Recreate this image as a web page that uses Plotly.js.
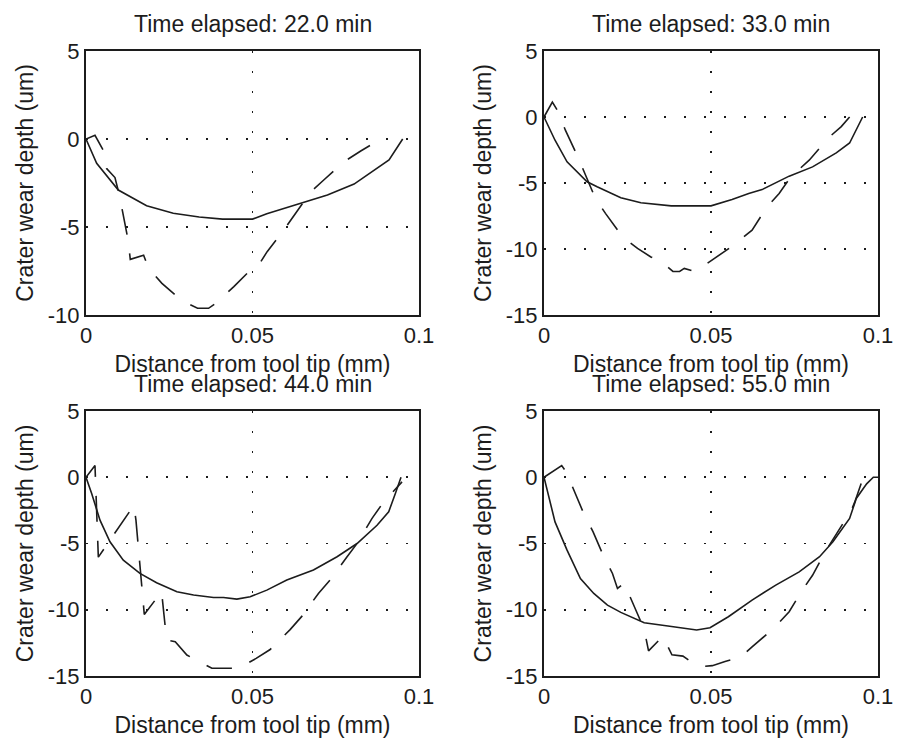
<!DOCTYPE html>
<html>
<head>
<meta charset="utf-8">
<script src="https://cdn.plot.ly/plotly-3.0.1.min.js"></script>
<style>
  html, body { margin: 0; padding: 0; background: #fff; }
  #chart { width: 907px; height: 740px; }
</style>
</head>
<body>
<div id="chart"></div>
<script>
// ---- Data (x: distance from tool tip in mm, y: crater wear depth in um) ----
const panelTitles = ['Time elapsed: 22.0 min', 'Time elapsed: 33.0 min', 'Time elapsed: 44.0 min', 'Time elapsed: 55.0 min'];

const xTickVals = [0, 0.05, 0.1];
const xTickText = ['0', '0.05', '0.1'];
const yTickValsTop = [-10, -5, 0, 5];
const yTickTextTop = ['-10', '-5', '0', '5'];
const yTickValsAll = [-15, -10, -5, 0, 5];
const yTickTextAll = ['-15', '-10', '-5', '0', '5'];

// 22.0 min
const x22Solid = [0, 0.0032, 0.0097, 0.0182, 0.0262, 0.034, 0.041, 0.05, 0.0543, 0.0614, 0.0725, 0.0805, 0.084, 0.091, 0.0951];
const y22Solid = [0, -1.38, -2.9, -3.79, -4.22, -4.43, -4.55, -4.55, -4.25, -3.85, -3.18, -2.56, -2.1, -1.19, 0];
const x22Dash = [0, 0.0027, 0.0052, 0.0062, 0.0087, 0.0099, 0.011, 0.0126, 0.0133, 0.0173, 0.0188, 0.0228, 0.0288, 0.0335, 0.0368, 0.0389, 0.0444, 0.0484, 0.0514, 0.0544, 0.0594, 0.0627, 0.0675, 0.0714, 0.0775, 0.0825, 0.0886];
const y22Dash = [0, 0.21, -0.64, -1.68, -2.19, -3.1, -4.14, -5.7, -6.84, -6.6, -7.35, -8.2, -9.19, -9.62, -9.62, -9.34, -8.39, -7.63, -7.3, -6.4, -5.17, -4.3, -3.0, -2.33, -1.29, -0.68, 0];

// 33.0 min
const x33Solid = [0, 0.0033, 0.0069, 0.0129, 0.0159, 0.023, 0.029, 0.0381, 0.05, 0.0563, 0.0613, 0.0653, 0.0734, 0.0804, 0.0875, 0.0915, 0.0954];
const y33Solid = [0, -1.76, -3.4, -4.91, -5.29, -6.12, -6.5, -6.73, -6.73, -6.25, -5.8, -5.5, -4.48, -3.78, -2.72, -1.97, 0];
const x33Dash = [0, 0.0025, 0.0043, 0.0064, 0.0099, 0.0121, 0.0154, 0.0184, 0.0235, 0.028, 0.032, 0.0349, 0.0386, 0.0406, 0.042, 0.0452, 0.0462, 0.0507, 0.0563, 0.0623, 0.0668, 0.0704, 0.0739, 0.0794, 0.0855, 0.089, 0.0915];
const y33Dash = [0, 1.13, 0.38, -1.0, -2.89, -4.15, -6.17, -7.3, -9.07, -9.96, -10.6, -10.9, -11.7, -11.7, -11.47, -11.72, -11.55, -10.8, -9.8, -8.57, -6.8, -5.8, -4.53, -3.27, -1.5, -0.73, 0];

// 44.0 min
const x44Solid = [0, 0.0017, 0.0042, 0.0072, 0.0112, 0.0162, 0.0212, 0.0273, 0.0323, 0.0383, 0.0413, 0.0453, 0.0493, 0.0543, 0.0603, 0.0683, 0.0754, 0.0814, 0.0874, 0.0909, 0.0929, 0.0946];
const y44Solid = [0, -1.23, -3.24, -4.87, -6.26, -7.26, -7.96, -8.64, -8.89, -9.07, -9.07, -9.2, -9.02, -8.52, -7.76, -7.0, -6.0, -5.0, -3.62, -2.61, -1.23, 0];
const x44Dash = [0, 0.0027, 0.0037, 0.0144, 0.015, 0.017, 0.0175, 0.0227, 0.0237, 0.0242, 0.0268, 0.0303, 0.0378, 0.0428, 0.0458, 0.0511, 0.0553, 0.0613, 0.0648, 0.0698, 0.0733, 0.0784, 0.0814, 0.0859, 0.0894, 0.0949];
const y44Dash = [0, 0.88, -6.03, -2.11, -3.24, -8.9, -10.35, -8.64, -11.28, -12.29, -12.41, -13.42, -14.42, -14.42, -14.42, -13.67, -13.0, -11.5, -10.5, -8.77, -7.76, -6.0, -5.0, -3.1, -1.86, -0.35];

// 55.0 min
const x55Solid = [0, 0.0033, 0.0069, 0.0109, 0.0149, 0.019, 0.023, 0.03, 0.0371, 0.0457, 0.0497, 0.0552, 0.0623, 0.0694, 0.0764, 0.0825, 0.0865, 0.0915, 0.0935, 0.0966, 0.0986, 0.1];
const y55Solid = [0, -3.37, -5.5, -7.64, -8.77, -9.65, -10.2, -10.98, -11.23, -11.53, -11.36, -10.53, -9.27, -8.14, -7.14, -6.0, -4.87, -3.11, -1.6, -0.5, 0, 0];
const x55Dash = [0, 0.0053, 0.0067, 0.0087, 0.0121, 0.0147, 0.0179, 0.0205, 0.022, 0.024, 0.0265, 0.03, 0.0313, 0.0356, 0.0383, 0.0416, 0.0462, 0.0504, 0.0542, 0.0588, 0.0623, 0.0688, 0.0734, 0.0774, 0.0804, 0.0845, 0.087, 0.092, 0.093, 0.0956];
const y55Dash = [0, 0.88, 0.38, -0.85, -2.86, -4.12, -6.0, -7.26, -8.39, -7.99, -9.47, -11.48, -13.1, -12.0, -13.4, -13.5, -14.3, -14.22, -13.9, -13.6, -12.8, -11.4, -10.15, -8.5, -7.4, -5.5, -4.5, -2.5, -1.9, 0];

// ---- Build ----
const W = 907, H = 740;
const ink = '#1c1c1c';
const FONT = 'Liberation Sans, Arial, Helvetica, sans-serif';
const FS = 23;   // titles
const TS = 22;   // tick labels

const series = [
  [x22Solid, y22Solid, x22Dash, y22Dash],
  [x33Solid, y33Solid, x33Dash, y33Dash],
  [x44Solid, y44Solid, x44Dash, y44Dash],
  [x55Solid, y55Solid, x55Dash, y55Dash]
];

// pixel boxes of each plot area [left, right, top, bottom]
const boxes = [
  [86, 419, 51, 315],
  [544, 878, 51, 315],
  [86, 419, 411, 676],
  [544, 878, 411, 676]
];
const yRanges = [[-10, 5], [-15, 5], [-15, 5], [-15, 5]];
const yTicks = [[yTickValsTop, yTickTextTop], [yTickValsAll, yTickTextAll], [yTickValsAll, yTickTextAll], [yTickValsAll, yTickTextAll]];

const traces = [];
const layout = {
  width: W, height: H,
  margin: {l: 0, r: 0, t: 0, b: 0},
  paper_bgcolor: '#ffffff',
  plot_bgcolor: '#ffffff',
  showlegend: false,
  font: {family: FONT, size: FS, color: ink},
  annotations: []
};

series.forEach((s, i) => {
  const n = i + 1;
  const xa = n === 1 ? 'x' : 'x' + n;
  const ya = n === 1 ? 'y' : 'y' + n;
  traces.push({x: s[0], y: s[1], xaxis: xa, yaxis: ya, mode: 'lines', type: 'scatter',
               line: {color: ink, width: 1.6}, hoverinfo: 'skip'});
  traces.push({x: s[2], y: s[3], xaxis: xa, yaxis: ya, mode: 'lines', type: 'scatter',
               line: {color: ink, width: 1.6, dash: '26px,19px'}, hoverinfo: 'skip'});
  const b = boxes[i];
  const common = {
    showline: true, mirror: true, linecolor: ink, linewidth: 2,
    showgrid: true, gridcolor: ink, gridwidth: 1.6, griddash: '2px,18px',
    zeroline: false, ticks: '', tickmode: 'array',
    tickfont: {family: FONT, size: TS, color: ink},
    fixedrange: true
  };
  layout['xaxis' + (n === 1 ? '' : n)] = Object.assign({}, common, {
    domain: [b[0] / W, b[1] / W], anchor: ya, range: [0, 0.1],
    tickvals: xTickVals, ticktext: xTickText,
    title: {text: 'Distance from tool tip (mm)', font: {family: FONT, size: FS, color: ink}, standoff: 8}
  });
  layout['yaxis' + (n === 1 ? '' : n)] = Object.assign({}, common, {
    domain: [1 - b[3] / H, 1 - b[2] / H], anchor: xa, range: yRanges[i],
    tickvals: yTicks[i][0], ticktext: yTicks[i][1],
    title: {text: 'Crater wear depth (um)', font: {family: FONT, size: FS, color: ink}, standoff: 8}
  });
  layout.annotations.push({
    text: panelTitles[i], xref: 'paper', yref: 'paper',
    x: ((b[0] + b[1]) / 2) / W, y: 1 - (b[2] - 27) / H,
    xanchor: 'center', yanchor: 'middle', showarrow: false,
    font: {family: FONT, size: FS, color: ink}
  });
});

Plotly.newPlot('chart', traces, layout, {staticPlot: true, displayModeBar: false});
</script>
</body>
</html>
